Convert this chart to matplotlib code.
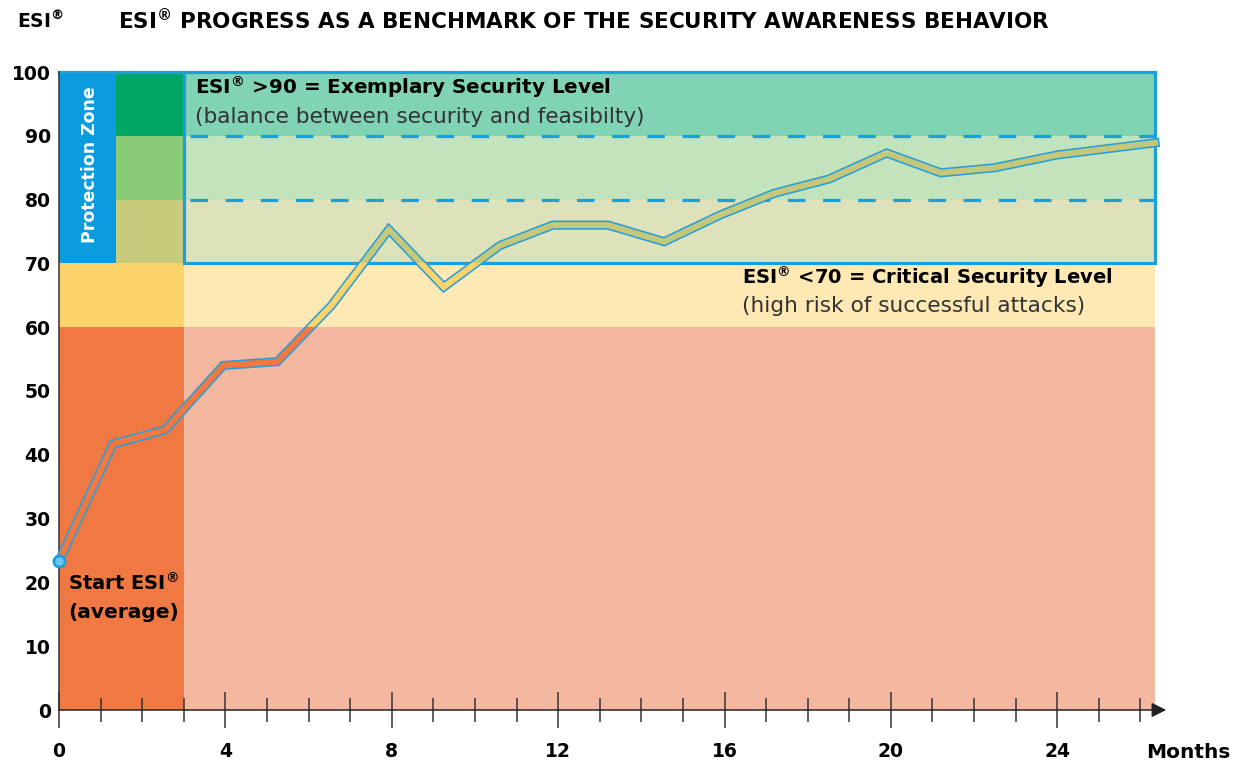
import matplotlib.pyplot as plt
from matplotlib.patches import Rectangle

plt.rcParams['font.family'] = ['DejaVu Sans']
plt.rcParams['mathtext.fontset'] = 'dejavusans'

# ESI values
months = [0, 1.3, 2.55, 3.95, 5.25, 6.55, 7.93, 9.25, 10.6, 11.87, 13.2,
          14.55, 15.9, 17.2, 18.5, 19.9, 21.2, 22.5, 24.0, 26.35]
esi = [23.3, 41.7, 43.9, 54.0, 54.6, 63.4, 75.3, 66.3, 72.8, 76.0, 76.0,
       73.4, 77.6, 81.0, 83.2, 87.3, 84.2, 85.0, 87.0, 88.9]

band_edges = [0, 60, 70, 80, 90, 100]
band_dark = ['#EF7843', '#FDD46B', '#C8CB7C', '#8ACB78', '#00A864']
band_light = ['#F4B8A0', '#FEE9B5', '#DEE2BB', '#C2E3BB', '#80D3B3']
line_fill = ['#EF7843', '#FDD46B', '#C5C77A']
line_cuts = [0, 60, 70, 100]

x_end = 26.35
col_end = 3
zone_end = 1.37
blue = '#1AA0DF'

W, H = 1247, 764
fig = plt.figure(figsize=(W / 100, H / 100), dpi=100)
ax = fig.add_axes([59 / W, (H - 710) / H, (1155 - 59) / W, (710 - 72) / H])
ax.set_xlim(0, x_end)
ax.set_ylim(0, 100)

# colour bands
for lo, hi, dk, lt in zip(band_edges[:-1], band_edges[1:], band_dark, band_light):
    ax.add_patch(Rectangle((0, lo), col_end, hi - lo, color=dk, lw=0, zorder=0))
    ax.add_patch(Rectangle((col_end, lo), x_end - col_end, hi - lo, color=lt, lw=0, zorder=0))
ax.add_patch(Rectangle((0, 70), zone_end, 30, color='#0A9CDE', lw=0, zorder=1))

# target box and dashed levels
ax.add_patch(Rectangle((col_end, 70), x_end - col_end, 30, fill=False,
                       ec=blue, lw=2.3, zorder=2, clip_on=False))
ax.plot([0, col_end], [100, 100], color=blue, lw=2.3, zorder=2, clip_on=False)
for lvl in (80, 90):
    ax.plot([col_end + 0.15, x_end], [lvl, lvl], color=blue, lw=2.3,
            ls=(0, (5.5, 5.5)), zorder=2)

# ESI curve: blue outline, fill coloured by band
ax.plot(months, esi, color='#2A9FD6', lw=6.6, solid_joinstyle='miter',
        zorder=3, clip_on=False)
for lo, hi, c in zip(line_cuts[:-1], line_cuts[1:], line_fill):
    ln, = ax.plot(months, esi, color=c, lw=4.3, solid_joinstyle='miter', zorder=4)
    clip = Rectangle((-1, lo), x_end + 2, hi - lo, transform=ax.transData)
    ln.set_clip_path(clip)
ax.plot(months[0], esi[0], 'o', ms=8, mfc='#6CC6EE', mec='#1A9FDB', mew=2,
        zorder=5, clip_on=False)

# axes
for s in ('top', 'right', 'bottom'):
    ax.spines[s].set_visible(False)
ax.spines['left'].set_color('#333333')
ax.spines['left'].set_linewidth(1.1)
ax.annotate('', xy=(26.62, 0), xytext=(0, 0), annotation_clip=False,
            arrowprops=dict(arrowstyle='-|>', color='#222222', lw=1.1,
                            mutation_scale=22, shrinkA=0, shrinkB=0))

ax.set_xticks(range(0, 25, 4))
ax.set_xticks([m for m in range(1, 27) if m % 4], minor=True)
ax.set_yticks(range(0, 101, 10))
ax.tick_params(axis='x', which='major', direction='inout', length=26, width=1.1,
               color='#333333', pad=10, labelsize=13.5)
ax.tick_params(axis='x', which='minor', direction='inout', length=17, width=1.1,
               color='#333333')
ax.tick_params(axis='y', length=0, pad=6, labelsize=13.5)
for lab in ax.get_xticklabels() + ax.get_yticklabels():
    lab.set_fontweight('bold')

# texts
def px(x, y):
    return x / W, 1 - y / H

fig.text(*px(17, 21), r'ESI$^{\mathbf{®}}$', fontsize=13.5, fontweight='bold', va='center')
fig.text(*px(118, 21),
         r'ESI$^{\mathbf{®}}$ PROGRESS AS A BENCHMARK OF THE SECURITY AWARENESS BEHAVIOR',
         fontsize=15.5, fontweight='bold', va='center')
fig.text(*px(195, 87), r'ESI$^{\mathbf{®}}$ >90 = Exemplary Security Level',
         fontsize=14.3, fontweight='bold', va='center', zorder=6)
fig.text(*px(195, 117), '(balance between security and feasibilty)',
         fontsize=15.6, color='#333333', va='center', zorder=6)
fig.text(*px(742, 277), r'ESI$^{\mathbf{®}}$ <70 = Critical Security Level',
         fontsize=14, fontweight='bold', va='center', zorder=6)
fig.text(*px(742, 306), '(high risk of successful attacks)',
         fontsize=15.6, color='#333333', va='center', zorder=6)
fig.text(*px(90, 165), 'Protection Zone', fontsize=12.5, fontweight='bold',
         color='white', rotation=90, ha='center', va='center', zorder=6)
fig.text(*px(68, 583), r'Start ESI$^{\mathbf{®}}$', fontsize=14, fontweight='bold',
         va='center', zorder=6)
fig.text(*px(68, 613), '(average)', fontsize=14.5, fontweight='bold', va='center', zorder=6)
fig.text(*px(1146, 752), 'Months', fontsize=14.5, fontweight='bold', va='center')

fig.savefig('out.png', dpi=100)
